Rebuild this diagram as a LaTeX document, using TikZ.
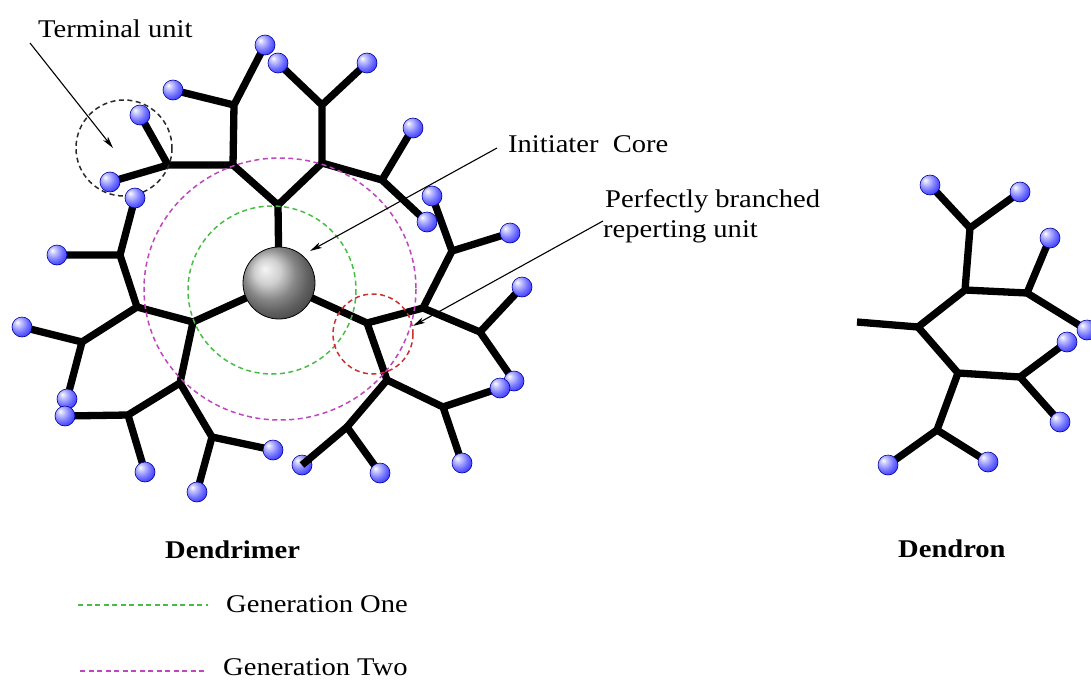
\documentclass[tikz,border=0pt]{standalone}
\usepackage{fontspec}
\setmainfont{Liberation Serif}[FakeStretch=1.12]
\usetikzlibrary{arrows.meta}

\definecolor{genone}{RGB}{70,190,70}
\definecolor{gentwo}{RGB}{190,70,190}
\definecolor{repunit}{RGB}{200,50,50}
\definecolor{termunit}{RGB}{40,40,40}

% glossy blue bead: white highlight, bright blue body, deeper blue rim
\pgfdeclareradialshading{beadshade}{\pgfpoint{-12bp}{12bp}}{%
  color(0bp)=(white); color(7bp)=(white!80!blue); color(22bp)=(blue!55!white);
  color(40bp)=(blue!90!white); color(55bp)=(blue!85!black); color(75bp)=(blue!70!black)}

\begin{document}
\begin{tikzpicture}[x=1pt,y=-1pt,
  bond/.style={line width=7.3pt, line cap=round},
  bead/.style={circle, minimum size=20pt, inner sep=0pt, shading=beadshade,
    draw=blue!60!black, line width=0.6pt},
  corenode/.style={circle, minimum size=72pt, inner sep=0pt, shading=ball,
    ball color=gray!50, draw=black, line width=0.8pt},
  gen/.style={dash pattern=on 5pt off 3.5pt, line width=1.5pt},
  pointer/.style={line width=1.1pt, -{Stealth[length=12pt,width=6pt,inset=3pt]}},
  lbl/.style={inner sep=0pt, anchor=base west, font=\fontsize{25.5}{30}\selectfont},
  ttl/.style={inner sep=0pt, anchor=base west, font=\fontsize{25.5}{30}\selectfont\bfseries},
]
\useasboundingbox (0,0) rectangle (1091,680);

% ---------- dendrimer skeleton ----------
\coordinate (C) at (279,283);
\coordinate (B1) at (278,205);
\coordinate (B2) at (367,323);
\coordinate (B3) at (193,322);
% top branch
\coordinate (G1a) at (233,165);
\coordinate (G1b) at (322,163);
\coordinate (T1) at (234,105);
\coordinate (T2) at (168,165);
\coordinate (T3) at (322,105);
\coordinate (T4) at (382,180);
\coordinate (a1) at (173,90);
\coordinate (a2) at (265,45);
\coordinate (a3) at (140,115);
\coordinate (a4) at (110,182);
\coordinate (a5) at (278,63);
\coordinate (a6) at (367,63);
\coordinate (a7) at (413,128);
\coordinate (a8) at (427,222);
% right branch
\coordinate (G2a) at (423,308);
\coordinate (G2b) at (387,380);
\coordinate (N) at (452,251);
\coordinate (M) at (480,332);
\coordinate (P) at (443,407);
\coordinate (Q) at (347,427);
\coordinate (b1) at (432,196);
\coordinate (b2) at (510,233);
\coordinate (b3) at (522,287);
\coordinate (b4) at (514,381);
\coordinate (b5) at (500,388);
\coordinate (b6) at (462,463);
\coordinate (b7) at (302,465);
\coordinate (b8) at (380,473);
% left branch
\coordinate (G3a) at (137,307);
\coordinate (G3b) at (180,383);
\coordinate (R) at (120,255);
\coordinate (S) at (82,342);
\coordinate (U) at (128,415);
\coordinate (V) at (212,437);
\coordinate (c1) at (57,255);
\coordinate (c2) at (135,198);
\coordinate (c3) at (22,327);
\coordinate (c4) at (67,399);
\coordinate (c5) at (65,416);
\coordinate (c6) at (145,472);
\coordinate (c7) at (273,450);
\coordinate (c8) at (197,492);

% ---------- dendron skeleton ----------
\coordinate (E0) at (857,322);
\coordinate (D0) at (918,327);
\coordinate (D1) at (965,290);
\coordinate (D2) at (958,373);
\coordinate (D3) at (970,228);
\coordinate (D4) at (1027,293);
\coordinate (D5) at (1020,377);
\coordinate (D6) at (937,430);
\coordinate (d1) at (930,185);
\coordinate (d2) at (1020,192);
\coordinate (d3) at (1050,238);
\coordinate (d4) at (1087,330);
\coordinate (d5) at (1067,342);
\coordinate (d6) at (1060,422);
\coordinate (d7) at (888,465);
\coordinate (d8) at (988,462);

% bonds
\draw[bond] (C) -- (B1) (C) -- (B2) (C) -- (B3)
  (B1) -- (G1a) (B1) -- (G1b)
  (G1a) -- (T1) (G1a) -- (T2) (G1b) -- (T3) (G1b) -- (T4)
  (T1) -- (a1) (T1) -- (a2) (T2) -- (a3) (T2) -- (a4)
  (T3) -- (a5) (T3) -- (a6) (T4) -- (a7) (T4) -- (a8)
  (B2) -- (G2a) (B2) -- (G2b)
  (G2a) -- (N) (G2a) -- (M) (G2b) -- (P) (G2b) -- (Q)
  (N) -- (b1) (N) -- (b2) (M) -- (b3) (M) -- (b4)
  (P) -- (b5) (P) -- (b6) (Q) -- (b8)
  (B3) -- (G3a) (B3) -- (G3b)
  (G3a) -- (R) (G3a) -- (S) (G3b) -- (U) (G3b) -- (V)
  (R) -- (c1) (R) -- (c2) (S) -- (c3) (S) -- (c4)
  (U) -- (c5) (U) -- (c6) (V) -- (c7) (V) -- (c8);
\draw[bond] (D0) -- (D1) (D0) -- (D2)
  (D1) -- (D3) (D1) -- (D4) (D2) -- (D5) (D2) -- (D6)
  (D3) -- (d1) (D3) -- (d2) (D4) -- (d3) (D4) -- (d4)
  (D5) -- (d5) (D5) -- (d6) (D6) -- (d7) (D6) -- (d8);
\draw[bond, line cap=butt] (E0) -- (D0);

% generation shells and highlighted units
\draw[gen, genone] (272,290) circle[radius=84];
\draw[gen, gentwo] (280,289) ellipse[x radius=136, y radius=131];
\draw[gen, repunit] (373,334) circle[radius=40];
\draw[gen, termunit] (124,148) circle[radius=48];

% terminal beads
\foreach \b in {a1,a2,a3,a4,a5,a6,a7,a8,b1,b2,b3,b4,b5,b6,b7,b8,
                c1,c2,c3,c4,c5,c6,c7,c8,d1,d2,d3,d4,d5,d6,d7,d8}
  \node[bead] (n\b) at (\b) {};
\draw[bond, line cap=butt] (Q) -- (b7);

% core
\node[corenode] (core) at (C) {};

% labels and pointers
\node[lbl] (tu) at (38,37) {Terminal unit};
\node[lbl] (ic) at (508,152) {Initiater\ \ Core};
\node[lbl] (pb) at (605,207) {Perfectly branched};
\node[lbl] (ru) at (603,237) {reperting unit};
\coordinate (tuTail) at (30,43);
\coordinate (tuHead) at (113,148);
\coordinate (icTail) at (497,148);
\coordinate (icHead) at (310,251);
\coordinate (ruTail) at (603,221);
\coordinate (ruHead) at (413,326);
\draw[pointer] (tuTail) -- (tuHead);
\draw[pointer] (icTail) -- (icHead);
\draw[pointer] (ruTail) -- (ruHead);

\node[ttl] (dm) at (165,558) {Dendrimer};
\node[ttl] (dn) at (898,557) {Dendron};

% legend
\coordinate (l1a) at (78,605);
\coordinate (l1b) at (208,605);
\coordinate (l2a) at (80,671);
\coordinate (l2b) at (205,671);
\draw[gen, genone, line width=1.1pt] (l1a) -- (l1b);
\draw[gen, gentwo, line width=1.1pt] (l2a) -- (l2b);
\node[lbl] (g1) at (226,612) {Generation One};
\node[lbl] (g2) at (223,675) {Generation Two};
\end{tikzpicture}
\end{document}
